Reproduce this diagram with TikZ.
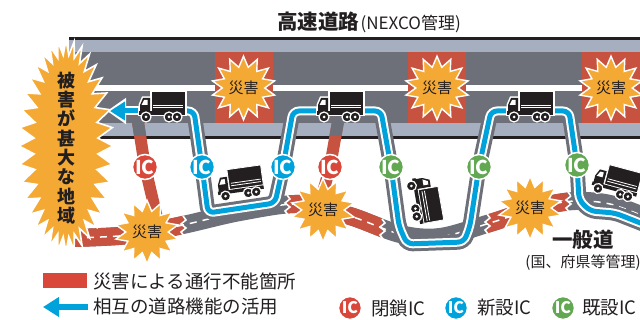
\documentclass[tikz,border=0pt]{standalone}
\usepackage{fontspec}
\setmainfont{Noto Sans CJK JP}
\usetikzlibrary{arrows.meta,positioning,shapes.geometric}

\definecolor{hwlight}{HTML}{A6AFC0}
\definecolor{hwdark}{HTML}{6D7079}
\definecolor{blockred}{HTML}{C75240}
\definecolor{burstorange}{HTML}{F5A935}
\definecolor{routeblue}{HTML}{00A2DC}
\definecolor{icred}{HTML}{D8473A}
\definecolor{icgreen}{HTML}{62A853}
\definecolor{inkgray}{HTML}{231F20}

% centre line of the ordinary road
\newcommand{\roadline}{plot[smooth, tension=0.55] coordinates {(74,238) (130,235) (183,225) (240,212) (300,204) (350,216) (400,234) (440,237) (490,223) (540,207) (575,201) (610,204) (648,218)}}

\tikzset{
  truck/.pic={
    % white halo
    \filldraw[white, line width=3pt] (-11,-16) rectangle (23,4);
    \filldraw[white, line width=3pt] (-12,7) -- (-22,7) -- (-22,-2) -- (-19,-9) -- (-12,-9) -- cycle;
    \filldraw[white, line width=3pt] (-23,3) rectangle (23,8);
    % body
    \fill[inkgray] (-12,7) -- (-22,7) -- (-22,-2) -- (-19,-9) -- (-12,-9) -- cycle;
    \fill[white] (-20.5,-2) -- (-18,-7) -- (-14.5,-7) -- (-14.5,-2) -- cycle;
    \filldraw[fill=inkgray, draw=white, line width=0.8pt] (-11,-16) rectangle (23,4);
    \draw[white, line width=0.8pt] (-9,-2) -- (21,-2) (-9,0.5) -- (21,0.5);
    \fill[inkgray] (-23,4.5) rectangle (23,8);
    % wheels
    \foreach \wx in {-16,7,15} {
      \filldraw[fill=inkgray, draw=white, line width=1.2pt] (\wx,10) circle (5);
      \fill[white] (\wx,10) circle (1.5);
    }
  }
}

\begin{document}
\begin{tikzpicture}[x=1pt, y=-1pt,
    lane/.style={fill=hwdark},
    band/.style={fill=hwlight},
    rim/.style={fill=inkgray},
    block/.style={fill=blockred},
    burst/.style={star, star points=14, star point ratio=1.5, fill=burstorange,
      draw=white, line width=1.4pt, inner sep=0pt, text=inkgray,
      font=\fontsize{15}{15}\selectfont},
    road/.style={line width=18pt, draw=hwdark},
    centerline/.style={draw=white, line width=1.5pt, dash pattern=on 7pt off 6pt},
    tear/.style={draw=white, line width=1.6pt},
    ramp/.style={line width=15pt, draw=hwdark, rounded corners=6pt},
    closed/.style={line width=12pt, draw=blockred, rounded corners=6pt},
    route/.style={line width=5pt, draw=routeblue, rounded corners=6pt,
      preaction={draw=white, line width=9pt}},
    ic/.style={circle, draw=white, line width=1.5pt, minimum size=25pt, inner sep=0pt,
      text=white, font=\bfseries\fontsize{19}{19}\selectfont},
    smallic/.style={ic, minimum size=23pt, font=\bfseries\fontsize{16}{16}\selectfont},
    legendtext/.style={anchor=west, inner sep=0pt, text=inkgray, font=\fontsize{18.5}{18.5}\selectfont}
]
\useasboundingbox (0,0) rectangle (640,320);

% --- expressway ---
\fill[rim] (69,37) rectangle (640,40);
\fill[band] (69,40) rectangle (640,52);
\fill[lane] (69,52) rectangle (640,85);
\fill[white] (69,85) rectangle (640,91);
\fill[lane] (69,91) rectangle (640,123);
\fill[band] (69,123) rectangle (640,136);
\fill[rim] (69,136) rectangle (640,139);

\foreach \bx in {215,408,582}
  \fill[block] (\bx,52) rectangle ++(58,71);
\node[burst, minimum size=55pt] (hwA) at (243.5,88) {災害};
\node[burst, minimum size=55pt] (hwB) at (437,88) {災害};
\node[burst, minimum size=55pt] (hwC) at (611,88) {災害};

% --- ordinary road ---
\draw[road] \roadline;
\begin{scope}
  \clip (60,180) rectangle (183,260);
  \draw[road, draw=blockred] \roadline;
\end{scope}
\begin{scope}
  \clip (287,180) rectangle (382,260);
  \draw[road, draw=blockred] \roadline;
\end{scope}
\begin{scope}
  \clip (487,180) rectangle (568,260);
  \draw[road, draw=blockred] \roadline;
\end{scope}
\draw[centerline] \roadline;
% torn edges where the road is cut
\foreach \tx/\ty in {183/226, 287/205, 382/229, 487/224, 568/202}
  \draw[tear] ({\tx},{\ty-10}) -- ++(3,4) -- ++(-5,4) -- ++(5,4) -- ++(-5,4) -- ++(3,4);

% interchange positions
\coordinate (icA) at (145,167);
\coordinate (icB) at (202,167);
\coordinate (icC) at (283,167);
\coordinate (icD) at (330,167);
\coordinate (icE) at (391,167);
\coordinate (icF) at (479,167);
\coordinate (icG) at (577,165);

% ramps
\draw[ramp] (186,112) -- (194,112) -- (icB) -- (208,213) -- (275,203) -- (icC) -- (293,112) -- (318,112);
\draw[ramp] (363,112) -- (381,112) -- (icE) -- (399,226) -- (407,244) -- (464,242) -- (470,226) -- (icF) -- (491,112) -- (508,112);
\draw[ramp] (553,112) -- (569,112) -- (icG) -- (579,200) -- (590,211) -- (615,213) -- (648,226);

% closed ramps
\draw[closed] (137,116) -- (icA) -- (158,222);
\draw[closed] (339,116) -- (icD) -- (318,210);
\begin{scope}
  \clip (0,0) rectangle (640,136);
  \draw[closed, draw=hwdark] (137,116) -- (icA) -- (158,222);
  \draw[closed, draw=hwdark] (339,116) -- (icD) -- (318,210);
\end{scope}

% detour routes
\draw[route] (186,111) -- (194,111) -- (icB) -- (208,213) -- (275,203) -- (icC) -- (293,111) -- (318,111);
\draw[route] (363,111) -- (381,111) -- (icE) -- (399,226) -- (407,244) -- (464,242) -- (470,226) -- (icF) -- (491,111) -- (508,111);
\draw[route] (553,111) -- (569,111) -- (icG) -- (579,200) -- (590,211) -- (615,213) -- (648,226);

\coordinate (tkAfront) at (141,111);
\coordinate (arrowtip) at (110,111);
\draw[white, line width=9pt, -{Triangle[length=19pt,width=25pt]}] (tkAfront) -- ([xshift=-3pt]arrowtip);
\draw[routeblue, line width=5pt, -{Triangle[length=15pt,width=18pt]}] (tkAfront) -- (arrowtip);

% trucks
\pic at (162,107) {truck};
\pic at (340,107) {truck};
\pic at (530,107) {truck};
\pic[rotate=8] at (240,184) {truck};
\pic[rotate=-80] at (424,200) {truck};
\pic[rotate=-15] at (616,183) {truck};

% interchanges
\node[ic, fill=icred] (closedA) at (icA) {IC};
\node[ic, fill=routeblue] (newA) at (icB) {IC};
\node[ic, fill=routeblue] (newB) at (icC) {IC};
\node[ic, fill=icred] (closedB) at (icD) {IC};
\node[ic, fill=icgreen] (oldA) at (icE) {IC};
\node[ic, fill=icgreen] (oldB) at (icF) {IC};
\node[ic, fill=icgreen] (oldC) at (icG) {IC};

% road damage
\node[burst, minimum size=47pt] (rdA) at (147,232) {災害};
\node[burst, minimum size=47pt] (rdB) at (323,210) {災害};
\node[burst, minimum size=47pt] (rdC) at (530,208) {災害};

% stricken area
\filldraw[fill=burstorange, draw=white, line width=1.6pt, shift={(66,146)}]
  (0,106)
  \foreach \k [evaluate=\k as \rx using {47-15*mod(\k,2)},
               evaluate=\k as \ry using {106-15*mod(\k,2)}] in {1,...,71} {
    -- ({\rx*cos(90+5*\k)},{\ry*sin(90+5*\k)})
  } -- cycle;
\node[align=center, inner sep=0pt, text=inkgray,
      font=\bfseries\fontsize{18}{19.3}\selectfont] (area) at (66,148)
  {被\\害\\が\\甚\\大\\な\\地\\域};

% --- labels ---
\node[anchor=west, inner sep=0pt, text=inkgray, font=\bfseries\fontsize{20.5}{20.5}\selectfont]
  (title) at (277,22) {高速道路};
\node[anchor=base west, inner sep=0pt, text=inkgray, font=\fontsize{17}{17}\selectfont]
  (titlenote) at ([xshift=1pt]title.base east) {(NEXCO管理)};

\node[inner sep=0pt, text=inkgray, font=\bfseries\fontsize{20.5}{20.5}\selectfont]
  (ippan) at (583,240) {一般道};
\node[below=5pt of ippan, inner sep=0pt, text=inkgray, font=\fontsize{15}{15}\selectfont]
  (ippannote) {(国、府県等管理)};

% --- legend ---
\fill[icred] (43,273) rectangle (87,288);
\node[legendtext] (lgclosed) at (93,281) {災害による通行不能箇所};
\coordinate (lgtail) at (88,307);
\coordinate (lgtip) at (43,307);
\draw[routeblue, line width=6pt, -{Triangle[length=16pt,width=19pt]}] (lgtail) -- (lgtip);
\node[legendtext] (lgroute) at (93,307) {相互の道路機能の活用};

\node[smallic, fill=icred] (lgicA) at (350,308) {IC};
\node[legendtext, right=9pt of lgicA] {閉鎖IC};
\node[smallic, fill=routeblue] (lgicB) at (456,308) {IC};
\node[legendtext, right=9pt of lgicB] {新設IC};
\node[smallic, fill=icgreen] (lgicC) at (563,308) {IC};
\node[legendtext, right=7pt of lgicC] {既設IC};
\end{tikzpicture}
\end{document}
